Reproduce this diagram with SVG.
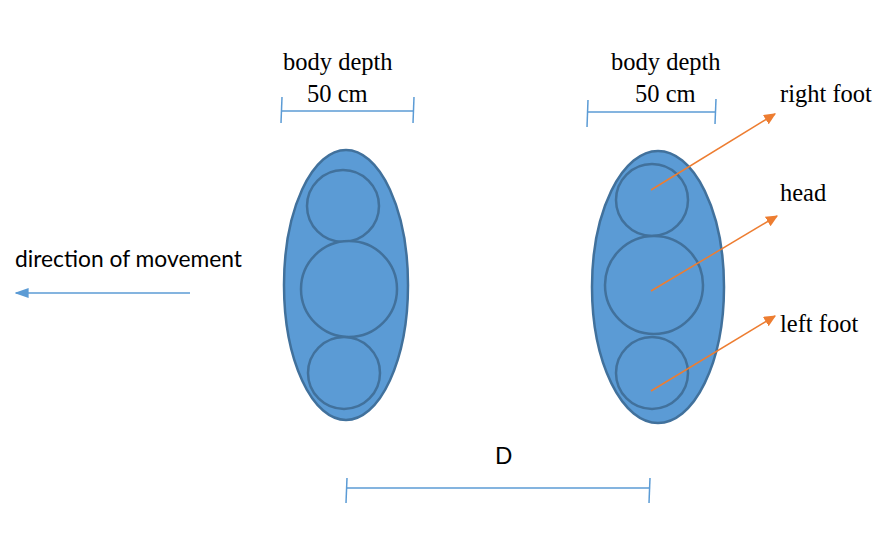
<svg xmlns="http://www.w3.org/2000/svg" width="879" height="535" viewBox="0 0 879 535">
<defs>
<style>
.body{fill:#5B9BD5;stroke:#41719C;stroke-width:2.5}
.part{fill:#5B9BD5;stroke:#41719C;stroke-width:2.5}
.dim{stroke:#5B9BD5;stroke-width:1.5;fill:none}
.ptr{stroke:#ED7D31;stroke-width:1.5;fill:none}
.serif{font-family:"Liberation Serif","Times New Roman",serif;font-size:24.5px;fill:#000}
.sans{font-family:Lato,"Open Sans",sans-serif;font-size:22.8px;fill:#000}
</style>
<marker id="ao" viewBox="0 0 10 10" refX="9" refY="5" markerWidth="12" markerHeight="11" markerUnits="userSpaceOnUse" orient="auto" preserveAspectRatio="none">
<path d="M0,0 L10,5 L0,10 z" fill="#ED7D31"/>
</marker>
<marker id="ab" viewBox="0 0 10 10" refX="9" refY="5" markerWidth="14" markerHeight="10" markerUnits="userSpaceOnUse" orient="auto" preserveAspectRatio="none">
<path d="M0,0 L10,5 L0,10 z" fill="#5B9BD5"/>
</marker>
</defs>
<rect width="879" height="535" fill="#fff"/>
<g id="person-left">
<ellipse class="body" cx="346" cy="285" rx="62" ry="135"/>
<circle class="part" cx="343" cy="206" r="36"/>
<circle class="part" cx="349" cy="289" r="48"/>
<circle class="part" cx="344" cy="373" r="36"/>
</g>
<g id="person-right">
<ellipse class="body" cx="658" cy="287" rx="66" ry="136"/>
<circle class="part" cx="652" cy="200" r="36"/>
<circle class="part" cx="654" cy="285" r="49"/>
<circle class="part" cx="652" cy="373" r="36"/>
</g>
<g id="connectors">
<line class="ptr" x1="651" y1="190" x2="775" y2="114" marker-end="url(#ao)"/>
<line class="ptr" x1="651" y1="291" x2="777" y2="216" marker-end="url(#ao)"/>
<line class="ptr" x1="651" y1="391" x2="775" y2="316" marker-end="url(#ao)"/>
<line class="dim" x1="190" y1="293" x2="16" y2="293" marker-end="url(#ab)"/>
<g id="dim-left">
<line class="dim" x1="281" y1="111" x2="414" y2="111"/>
<line class="dim" x1="282" y1="97" x2="281" y2="123"/>
<line class="dim" x1="414" y1="97" x2="413" y2="123"/>
</g>
<g id="dim-right">
<line class="dim" x1="588" y1="112" x2="715" y2="112"/>
<line class="dim" x1="588" y1="100" x2="587" y2="127"/>
<line class="dim" x1="716" y1="99" x2="715" y2="124"/>
</g>
<g id="dim-D">
<line class="dim" x1="346" y1="488" x2="649" y2="488"/>
<line class="dim" x1="347" y1="478" x2="346" y2="503"/>
<line class="dim" x1="650" y1="478" x2="649" y2="503"/>
</g>
</g>
<g id="labels">
<text class="serif" x="283" y="70">body depth</text>
<text class="serif" x="307" y="102">50 cm</text>
<text class="serif" x="611" y="70">body depth</text>
<text class="serif" x="635" y="102">50 cm</text>
<text class="serif" x="780" y="102">right foot</text>
<text class="serif" x="780" y="201">head</text>
<text class="serif" x="780" y="332">left foot</text>
<text class="sans" x="15" y="267">direction of movement</text>
<text class="sans" x="495" y="464">D</text>
</g>
</svg>
